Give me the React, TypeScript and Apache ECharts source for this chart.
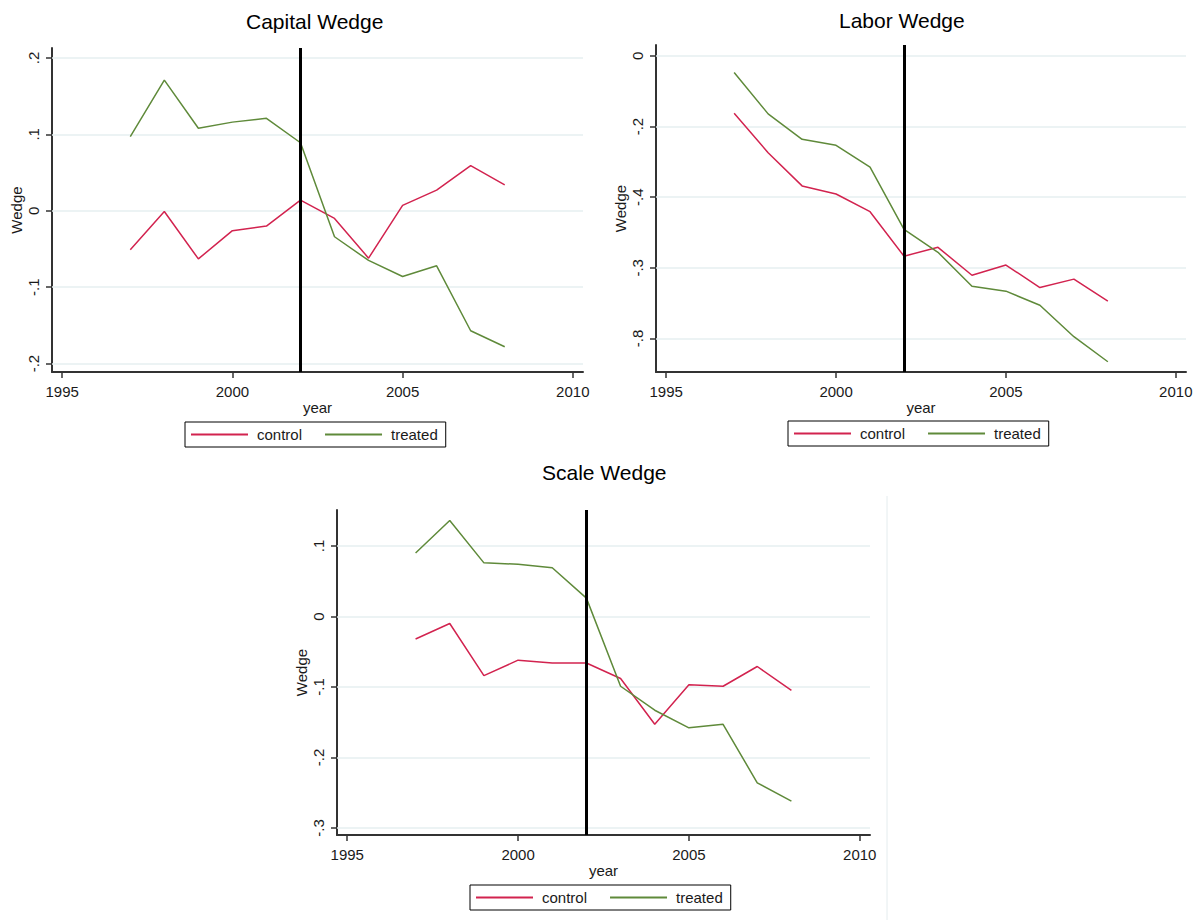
import React, { useEffect, useRef } from "react";
import * as echarts from "echarts";

const years = [1997, 1998, 1999, 2000, 2001, 2002, 2003, 2004, 2005, 2006, 2007, 2008];
const xTicks = [1995, 2000, 2005, 2010];
const treatmentYear = 2002;

const capitalControl = [-0.051, -0.001, -0.063, -0.026, -0.020, 0.014, -0.010, -0.062, 0.007, 0.027, 0.059, 0.034];
const capitalTreated = [0.097, 0.171, 0.108, 0.116, 0.121, 0.089, -0.034, -0.065, -0.086, -0.072, -0.157, -0.178];
const capitalTicks = [-0.2, -0.1, 0, 0.1, 0.2];
const capitalTickLabels = ["-.2", "-.1", "0", ".1", ".2"];

const laborControl = [-0.162, -0.274, -0.368, -0.391, -0.441, -0.567, -0.542, -0.621, -0.592, -0.656, -0.632, -0.694];
const laborTreated = [-0.047, -0.164, -0.236, -0.253, -0.315, -0.491, -0.556, -0.652, -0.666, -0.706, -0.795, -0.866];
const laborTicks = [-0.8, -0.6, -0.4, -0.2, 0];
const laborTickLabels = ["-.8", "-.3", "-.4", "-.2", "0"];

const scaleControl = [-0.032, -0.010, -0.084, -0.062, -0.066, -0.066, -0.088, -0.153, -0.097, -0.099, -0.071, -0.105];
const scaleTreated = [0.090, 0.136, 0.076, 0.074, 0.069, 0.026, -0.099, -0.133, -0.158, -0.153, -0.236, -0.262];
const scaleTicks = [-0.3, -0.2, -0.1, 0, 0.1];
const scaleTickLabels = ["-.3", "-.2", "-.1", "0", ".1"];

const RED = "#d2234f";
const GREEN = "#5f8a3a";
const FONT = "'Liberation Sans', Arial, sans-serif";
const AXIS_COLOR = "#333333";
const GRID_COLOR = "#e6eff1";

export default function App() {
  const ref = useRef<HTMLDivElement>(null);

  useEffect(() => {
    if (!ref.current) return;
    const chart = echarts.init(ref.current, undefined, { renderer: "svg" });

    const panels = [
      {
        title: "Capital Wedge", titleLeft: 246, titleTop: 11,
        grid: { left: 52, top: 48, width: 531, height: 324 },
        yMin: -0.211, yMax: 0.213, ticks: capitalTicks, labels: capitalTickLabels,
        control: capitalControl, treated: capitalTreated,
        legend: { left: 185, top: 422 },
      },
      {
        title: "Labor Wedge", titleLeft: 839, titleTop: 10,
        grid: { left: 656, top: 45, width: 530, height: 327 },
        yMin: -0.895, yMax: 0.031, ticks: laborTicks, labels: laborTickLabels,
        control: laborControl, treated: laborTreated,
        legend: { left: 788, top: 421 },
      },
      {
        title: "Scale Wedge", titleLeft: 542, titleTop: 462,
        grid: { left: 337, top: 510, width: 533, height: 325 },
        yMin: -0.31, yMax: 0.151, ticks: scaleTicks, labels: scaleTickLabels,
        control: scaleControl, treated: scaleTreated,
        legend: { left: 470, top: 885 },
      },
    ];

    const fmt = (ticks: number[], labels: string[]) => (v: number) => {
      const i = ticks.findIndex((t) => Math.abs(t - v) < 1e-6);
      return i >= 0 ? labels[i] : "";
    };

    const series: any[] = [];
    panels.forEach((p, k) => {
      series.push({
        name: "_grid" + k,
        type: "line",
        xAxisIndex: k,
        yAxisIndex: k,
        data: [],
        z: 1,
        silent: true,
        markLine: {
          silent: true,
          z: 1,
          symbol: ["none", "none"],
          label: { show: false },
          lineStyle: { color: GRID_COLOR, width: 1.5, type: "solid" },
          data: p.ticks.map((t) => ({ yAxis: t })),
        },
      });
      series.push({
        name: "control",
        type: "line",
        xAxisIndex: k,
        yAxisIndex: k,
        showSymbol: false,
        symbol: "none",
        z: 3,
        lineStyle: { color: RED, width: 1.5 },
        itemStyle: { color: RED },
        data: years.map((y, i) => [y, p.control[i]]),
      });
      series.push({
        name: "treated",
        type: "line",
        xAxisIndex: k,
        yAxisIndex: k,
        showSymbol: false,
        symbol: "none",
        z: 3,
        lineStyle: { color: GREEN, width: 1.5 },
        itemStyle: { color: GREEN },
        data: years.map((y, i) => [y, p.treated[i]]),
        markLine: {
          silent: true,
          z: 5,
          symbol: ["none", "none"],
          label: { show: false },
          lineStyle: { color: "#000", width: 3, type: "solid" },
          data: [{ xAxis: treatmentYear }],
        },
      });
    });

    const option: any = {
      animation: false,
      backgroundColor: "#ffffff",
      textStyle: { fontFamily: FONT },
      title: panels.map((p) => ({
        text: p.title,
        left: p.titleLeft,
        top: p.titleTop,
        padding: 0,
        textStyle: { fontFamily: FONT, fontSize: 21, fontWeight: "normal", color: "#000" },
      })),
      grid: panels.map((p) => ({ ...p.grid, containLabel: false })),
      xAxis: panels.map((p, k) => ({
        type: "value",
        gridIndex: k,
        min: 1994.7,
        max: 2010.3,
        name: "year",
        nameLocation: "middle",
        nameGap: 27,
        nameTextStyle: { fontFamily: FONT, fontSize: 15, color: "#1a1a1a" },
        axisLine: { show: true, onZero: false, lineStyle: { color: AXIS_COLOR, width: 2 } },
        axisTick: { show: true, length: 6, customValues: xTicks, lineStyle: { color: AXIS_COLOR, width: 1.5 } },
        axisLabel: {
          show: true,
          customValues: xTicks,
          margin: 12,
          fontFamily: FONT,
          fontSize: 15,
          color: "#1a1a1a",
          formatter: (v: number) => String(Math.round(v)),
        },
        splitLine: { show: false },
      })),
      yAxis: panels.map((p, k) => ({
        type: "value",
        gridIndex: k,
        min: p.yMin,
        max: p.yMax,
        name: "Wedge",
        nameLocation: "middle",
        nameRotate: 90,
        nameGap: 28,
        nameTextStyle: { fontFamily: FONT, fontSize: 15, color: "#1a1a1a" },
        axisLine: { show: true, onZero: false, lineStyle: { color: AXIS_COLOR, width: 2 } },
        axisTick: { show: true, length: 6, customValues: p.ticks, lineStyle: { color: AXIS_COLOR, width: 1.5 } },
        axisLabel: {
          show: true,
          customValues: p.ticks,
          rotate: 90,
          margin: 11,
          fontFamily: FONT,
          fontSize: 15,
          color: "#1a1a1a",
          formatter: fmt(p.ticks, p.labels),
        },
        splitLine: { show: false },
      })),
      legend: panels.map((p) => ({
        data: [
          { name: "control", icon: "rect", itemStyle: { color: RED } },
          { name: "treated", icon: "rect", itemStyle: { color: GREEN } },
        ],
        left: p.legend.left,
        top: p.legend.top,
        orient: "horizontal",
        padding: [5, 8, 5, 6],
        borderColor: "#000",
        borderWidth: 1,
        borderRadius: 0,
        itemWidth: 57,
        itemHeight: 2,
        itemGap: 23,
        selectedMode: false,
        textStyle: { fontFamily: FONT, fontSize: 15, color: "#1a1a1a", padding: [0, 0, 0, 4] },
      })),
      graphic: [
        {
          type: "line",
          shape: { x1: 887, y1: 496, x2: 887, y2: 920 },
          style: { stroke: "#e4ecee", lineWidth: 1 },
          silent: true,
        },
      ],
      series,
    };

    chart.setOption(option);
    return () => chart.dispose();
  }, []);

  return (
    <div
      ref={ref}
      style={{ position: "absolute", left: 0, top: 0, width: 1201, height: 920, background: "#fff" }}
    />
  );
}
